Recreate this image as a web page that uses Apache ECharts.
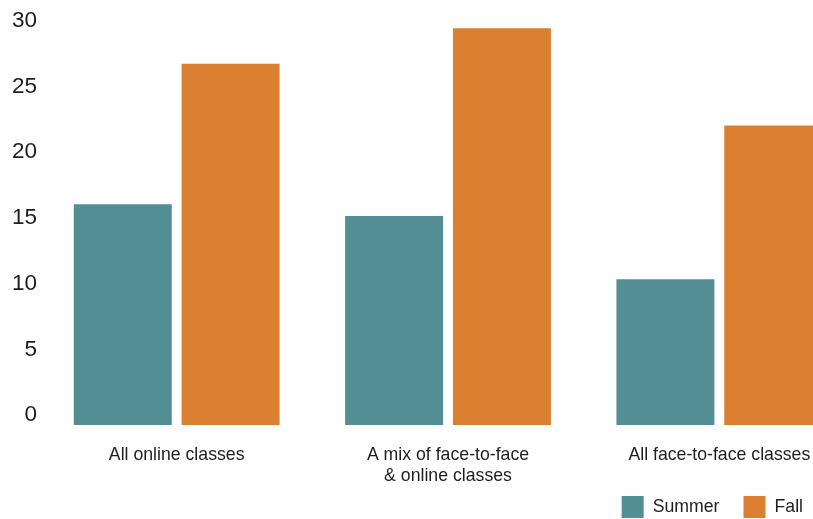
<!DOCTYPE html>
<html>
<head>
<meta charset="utf-8">
<script src="https://cdn.jsdelivr.net/npm/echarts@6/dist/echarts.min.js"></script>
<style>
  html, body { margin: 0; padding: 0; background: #ffffff; }
  #chart { width: 813px; height: 519px; }
</style>
</head>
<body>
<div id="chart"></div>
<script>
// Class format categories and the two terms compared
const categories = ['All online classes', 'A mix of face-to-face\n& online classes', 'All face-to-face classes'];
const summerValues = [16.8, 15.9, 11.1];
const fallValues = [27.5, 30.2, 22.8];
const yTicks = [0, 5, 10, 15, 20, 25, 30];

const FONT = '"Liberation Sans", Arial, sans-serif';
const TEXT = '#1e1e1e';
const TEAL = '#528e94';
const ORANGE = '#db8030';

const chart = echarts.init(document.getElementById('chart'), null, { renderer: 'canvas' });

chart.setOption({
  animation: false,
  backgroundColor: '#ffffff',
  textStyle: { fontFamily: FONT, color: TEXT },
  // the plot area runs past the right edge, so the last group is cut off there
  grid: { left: 41, width: 814, top: 17.7, bottom: 94, containLabel: false, outerBoundsMode: 'none' },
  legend: {
    right: 10,
    top: 496,
    padding: 0,
    itemWidth: 22,
    itemHeight: 22,
    itemGap: 24,
    icon: 'rect',
    textStyle: { fontFamily: FONT, fontSize: 17.7, color: TEXT, padding: [0, 0, 0, 4] },
    data: ['Summer', 'Fall']
  },
  xAxis: {
    type: 'category',
    data: categories,
    axisLine: { show: false },
    axisTick: { show: false },
    axisLabel: {
      interval: 0,
      margin: 20,
      fontFamily: FONT,
      fontSize: 17.7,
      lineHeight: 21,
      color: TEXT,
      align: 'center'
    }
  },
  yAxis: {
    type: 'value',
    min: 0,
    max: 31,
    interval: 5,
    axisLine: { show: false },
    axisTick: { show: false },
    splitLine: { show: false },
    axisLabel: {
      margin: 4,
      fontFamily: FONT,
      fontSize: 22.5,
      lineHeight: 20,
      verticalAlign: 'bottom',
      color: TEXT,
      formatter: function (v) { return yTicks.indexOf(v) >= 0 ? String(v) : ''; }
    }
  },
  series: [
    {
      name: 'Summer',
      type: 'bar',
      data: summerValues,
      barWidth: 98,
      barGap: '10%',
      itemStyle: { color: TEAL }
    },
    {
      name: 'Fall',
      type: 'bar',
      data: fallValues,
      barWidth: 98,
      barGap: '10%',
      itemStyle: { color: ORANGE }
    }
  ]
});
</script>
</body>
</html>
